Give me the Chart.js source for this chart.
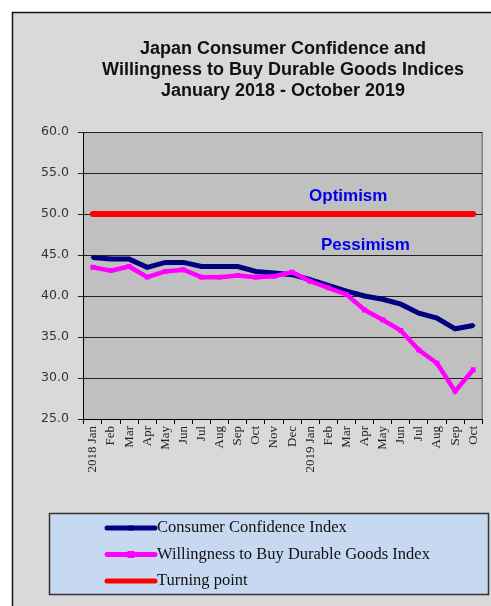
<!DOCTYPE html>
<html><head><meta charset="utf-8">
<script src="https://cdn.jsdelivr.net/npm/chart.js@4.4.1/dist/chart.umd.min.js"></script>
<style>html,body{margin:0;padding:0;background:#fff;}canvas{display:block;}</style>
</head><body>
<canvas id="c" width="491" height="606"></canvas>
<script>
const months = ["2018 Jan","Feb","Mar","Apr","May","Jun","Jul","Aug","Sep","Oct","Nov","Dec",
                "2019 Jan","Feb","Mar","Apr","May","Jun","Jul","Aug","Sep","Oct"];
const consumerConfidence = [44.7,44.5,44.5,43.5,44.1,44.1,43.6,43.6,43.6,43.0,42.8,42.6,
                            42.0,41.3,40.6,40.0,39.6,39.0,37.9,37.3,36.0,36.4];
const durableGoods = [43.5,43.1,43.6,42.3,43.0,43.2,42.3,42.3,42.5,42.3,42.4,42.9,
                      41.8,41.0,40.2,38.3,37.1,35.8,33.4,31.8,28.4,31.0];
const turningPoint = [50,50,50,50,50,50,50,50,50,50,50,50,50,50,50,50,50,50,50,50,50,50];
const yMin = 25, yMax = 60, yStep = 5;
const titleLines = ["Japan Consumer Confidence and","Willingness to Buy Durable Goods Indices","January 2018 - October 2019"];
const zoneTexts = ["Optimism","Pessimism"];

const bgPlugin = {
  id:'bg',
  beforeDraw(chart){
    const ctx = chart.ctx, a = chart.chartArea, W = chart.width, H = chart.height;
    ctx.save();
    ctx.fillStyle = '#ffffff'; ctx.fillRect(0,0,W,H);
    ctx.fillStyle = '#d9d9d9'; ctx.fillRect(12,12,W-12,H-12);
    ctx.strokeStyle = '#111'; ctx.lineWidth = 1.5;
    ctx.beginPath(); ctx.moveTo(12.5,H); ctx.lineTo(12.5,12.5); ctx.lineTo(W,12.5); ctx.stroke();
    ctx.fillStyle = '#c0c0c0'; ctx.fillRect(a.left,a.top,a.right-a.left,a.bottom-a.top);
    ctx.strokeStyle = '#808080'; ctx.lineWidth = 1.5;
    ctx.beginPath(); ctx.moveTo(a.right,a.top); ctx.lineTo(a.right,a.bottom); ctx.stroke();
    ctx.restore();
  }
};

const zonePlugin = {
  id:'zoneLabels',
  afterDatasetsDraw(chart, args, o){
    const x = chart.scales.x, y = chart.scales.y, ctx = chart.ctx;
    ctx.save();
    ctx.font = o.font; ctx.fillStyle = o.color; ctx.textAlign = 'center'; ctx.textBaseline = 'middle';
    o.items.forEach(it => ctx.fillText(it.text, x.getPixelForValue(it.at), y.getPixelForValue(it.value)));
    ctx.restore();
  }
};

const boxLegend = {
  id:'boxLegend',
  afterDraw(chart, args, o){
    const ctx = chart.ctx;
    ctx.save();
    ctx.fillStyle = o.bg; ctx.fillRect(o.left,o.top,o.width,o.height);
    ctx.strokeStyle = '#333'; ctx.lineWidth = 1.5; ctx.strokeRect(o.left+0.5,o.top+0.5,o.width,o.height);
    ctx.font = o.font; ctx.textBaseline = 'middle'; ctx.textAlign = 'left';
    chart.data.datasets.forEach((ds,i) => {
      const yy = o.top + o.firstRow + i*o.rowGap;
      ctx.strokeStyle = ds.borderColor; ctx.lineWidth = 5; ctx.lineCap = 'round';
      ctx.beginPath(); ctx.moveTo(o.sampleX, yy); ctx.lineTo(o.sampleX+o.sampleW, yy); ctx.stroke();
      if (ds.pointRadius > 0) {
        ctx.fillStyle = ds.borderColor;
        const cx = o.sampleX + o.sampleW/2, r = ds.pointRadius;
        ctx.fillRect(cx-r, yy-r, 2*r, 2*r);
      }
      ctx.fillStyle = '#111';
      ctx.fillText(ds.label, o.sampleX + o.sampleW + 2, yy);
    });
    ctx.restore();
  }
};

new Chart(document.getElementById('c'), {
  type:'line',
  data:{
    labels: months,
    datasets:[
      {label:'Consumer Confidence Index', data:consumerConfidence, borderColor:'#000080', backgroundColor:'#000080',
       borderWidth:5, pointStyle:'rectRot', pointRadius:2.5, pointBorderWidth:0, pointBackgroundColor:'#000080', tension:0, order:2},
      {label:'Willingness to Buy Durable Goods Index', data:durableGoods, borderColor:'#ff00ff', backgroundColor:'#ff00ff',
       borderWidth:4.5, pointStyle:'rect', pointRadius:3.5, pointBorderWidth:0, pointBackgroundColor:'#ff00ff', tension:0, order:1},
      {label:'Turning point', data:turningPoint, borderColor:'#ff0000', backgroundColor:'#ff0000',
       borderWidth:6, pointRadius:0, borderCapStyle:'round', tension:0, order:0}
    ]
  },
  options:{
    responsive:false, animation:false, devicePixelRatio:1,
    layout:{padding:{left:32,right:6,top:14,bottom:127}},
    plugins:{
      legend:{display:false}, tooltip:{enabled:false},
      title:{display:true, fullSize:false, text:titleLines, color:'#111',
        font:{family:'"Liberation Sans", Arial, sans-serif', size:18, weight:'bold', lineHeight:1.167},
        padding:{top:25,bottom:30}},
      zoneLabels:{font:'bold 17px "Liberation Sans", Arial, sans-serif', color:'#0000e6',
        items:[{text:zoneTexts[0], at:14.1, value:52.1},{text:zoneTexts[1], at:15.05, value:46.2}]},
      boxLegend:{left:49, top:513, width:439, height:81, bg:'#c6d9f1', firstRow:15, rowGap:26.5,
        sampleX:107, sampleW:48, font:'16.5px "Liberation Serif", "Times New Roman", serif'}
    },
    scales:{
      x:{offset:true,
         grid:{offset:true, drawOnChartArea:false, drawTicks:true, tickLength:5, color:'#000'},
         border:{color:'#000', width:1},
         ticks:{autoSkip:false, maxRotation:90, minRotation:90, padding:2, color:'#222',
                font:{family:'"Liberation Serif", "Times New Roman", serif', size:13}},
         afterFit(s){ s.height = 60; }},
      y:{min:yMin, max:yMax,
         ticks:{stepSize:yStep, callback:v => Number(v).toFixed(1), color:'#333', padding:9,
                font:{family:'"DejaVu Sans", sans-serif', size:12.5}},
         grid:{color:'#222', tickLength:6},
         border:{color:'#000', width:1}}
    }
  },
  plugins:[bgPlugin, zonePlugin, boxLegend]
});
</script>
</body></html>
